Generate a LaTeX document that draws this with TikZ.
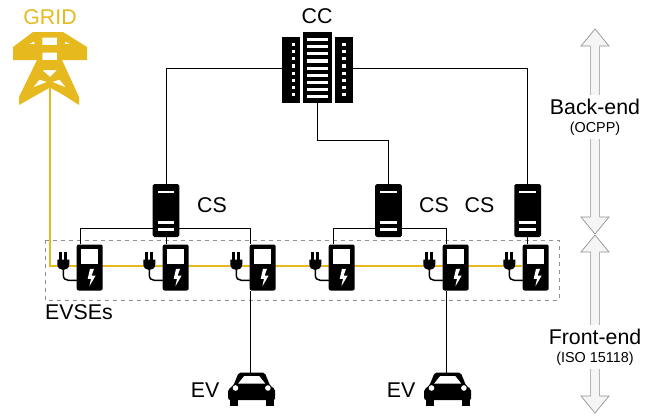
\documentclass[tikz,border=0pt]{standalone}
\usepackage{fontspec}
\setmainfont{Liberation Sans}
\usetikzlibrary{backgrounds,shapes.arrows}
\definecolor{gridyellow}{RGB}{230,185,30}
\definecolor{arrowgrey}{RGB}{144,144,144}
\definecolor{arrowfill}{RGB}{245,245,245}
\tikzset{
  label16/.style={font=\fontsize{16}{18}\selectfont, inner sep=0pt},
  label11/.style={font=\fontsize{10.8}{12}\selectfont, inner sep=0pt},
  wire/.style={line width=0.6pt, black},
  power/.style={line width=2pt, gridyellow},
  layer/.style={draw=arrowgrey, fill=arrowfill, line width=0.5pt, double arrow, rotate=90,
    inner sep=3.2pt, minimum width=21pt, double arrow head extend=7.1pt, double arrow tip angle=79},
  layerlabel/.style={fill=white, inner xsep=1pt, inner ysep=3pt},
  csnode/.style={fill=black, rounded corners=1.2pt, minimum width=20pt, minimum height=39.75pt, inner sep=0pt,
    path picture={
      \fill[white, sharp corners] (-8.3,-20) rectangle (8.3,-17.6);
      \fill[white, sharp corners] (-8.3,10.7) rectangle (8.3,13.1);
      \fill[white, sharp corners] (-8.3,17.7) rectangle (8.3,20.1);
    }},
  evsenode/.style={fill=black, rounded corners=1.5pt, minimum width=19.5pt, minimum height=34.5pt, inner sep=0pt,
    path picture={
      \fill[white, sharp corners] (-8.7,-18.7) rectangle (8.7,-3.7);
      \fill[white, sharp corners] (0.3,1.3) -- (4.3,1.3) -- (2,8) -- (6,8) -- (-0.3,18.7) -- (1.3,11.3) -- (-2,11.3) -- cycle;
    }},
  ccnode/.style={fill=black, inner sep=0pt, minimum width=#1},
  gridnode/.style={minimum width=55.5pt, minimum height=54.75pt, inner sep=0pt,
    path picture={
      \fill[gridyellow, even odd rule, sharp corners]
        (-17,-36.5) -- (13,-36.5) -- (37,-21.5) -- (37,-8.5) -- (12,-8.5) -- (29,28.5) -- (29,36.5) -- (15,27.5) -- (0,19)
        -- (-17,28.5) -- (-31,36.5) -- (-31,28.5) -- (-13,-8.5) -- (-37,-8.5) -- (-37,-21.5) -- cycle
        (-7.7,-31) -- (7,-31) -- (7,-23.5) -- (-7.7,-23.5) -- cycle
        (-7.7,-16) -- (7,-16) -- (7,-8.5) -- (-7.7,-8.5) -- cycle
        (-21.7,-24.3) -- (-15.7,-27) -- (-15.7,-24.3) -- cycle
        (15,-27) -- (20.7,-24.3) -- (15,-24.3) -- cycle
        (-7.7,1.5) -- (7,1.5) -- (0,8.5) -- cycle
        (-10.5,11) -- (-3,13.5) -- (-17,19) -- cycle
        (9.5,11) -- (16,19) -- (2.5,13.5) -- cycle;
    }},
  evnode/.style={minimum width=36pt, minimum height=24.75pt, inner sep=0pt,
    path picture={
      \fill[black, rounded corners=1.5pt]
        (-13,-16.5) -- (13,-16.5) -- (18.5,-3) -- (23.5,0) -- (23.5,11) -- (-23.5,11) -- (-23.5,0) -- (-18.5,-3) -- cycle;
      \fill[black, sharp corners] (-22,9) rectangle (-14,16.5);
      \fill[black, sharp corners] (14,9) rectangle (22,16.5);
      \fill[white, sharp corners] (-7.5,-13) -- (7.5,-13) -- (13.5,-5.5) -- (-13.5,-5.5) -- cycle;
      \fill[white] (-16.2,-1) circle (2.8);
      \fill[white] (16.2,-1) circle (2.8);
    }},
  plug/.pic={
    \fill[black] (-4.3,-14.3) rectangle (-1.7,-6);
    \fill[black] (0.7,-14.3) rectangle (3.3,-6);
    \fill[black] (-6,-6.5) -- (6,-6.5) -- (6,-2) .. controls (6,2) and (3,4) .. (0,4) .. controls (-3,4) and (-6,2) .. (-6,-2) -- cycle;
    \draw[black, line width=1.1pt] (0,3) -- (0,9) .. controls (0,12.5) and (2,14.3) .. (5,14.3) -- (14,14.3);
  }
}
\begin{document}
\begin{tikzpicture}[x=0.75pt,y=-0.75pt]
\useasboundingbox (0,0) rectangle (655,415);
\node[gridnode] (grid) at (50,68.5){};
\node[label16, gridyellow] (gridlabel) at (50,17){GRID};
\node[ccnode=13.5pt, minimum height=49.5pt] (cc1) at (291,70){};
\node[ccnode=21.75pt, minimum height=53.25pt] (cc2) at (317.5,67.5){};
\node[ccnode=13.5pt, minimum height=49.5pt] (cc3) at (344,70){};
\draw[white, line width=2.4pt, dash pattern=on 2.4pt off 2.95pt] (293.5,43) -- (293.5,97);
\draw[white, line width=15.75pt, dash pattern=on 2.4pt off 2.95pt] (317.5,38) -- (317.5,99);
\draw[white, line width=2.4pt, dash pattern=on 2.4pt off 2.95pt] (344,43) -- (344,97);
\node[label16] (cclabel) at (317,16){CC};
\node[csnode] (cs1) at (166,210.5){};
\node[csnode] (cs2) at (388.5,210.5){};
\node[csnode] (cs3) at (527.7,210.5){};
\node[label16] (cs1label) at (212,205){CS};
\node[label16] (cs2label) at (434,205){CS};
\node[label16] (cs3label) at (479.5,205){CS};
\node[evsenode] (evse1) at (89.7,267.5){};
\node[evsenode] (evse2) at (175.7,267.5){};
\node[evsenode] (evse3) at (262.7,267.5){};
\node[evsenode] (evse4) at (341.7,267.5){};
\node[evsenode] (evse5) at (455.7,267.5){};
\node[evsenode] (evse6) at (535.7,267.5){};
\pic at (63.3,266) {plug};
\pic at (149.3,266) {plug};
\pic at (236.3,266) {plug};
\pic at (315.3,266) {plug};
\pic at (429.3,266) {plug};
\pic at (509.3,266) {plug};
\node[label16] (evselabel) at (79,312){EVSEs};
\node[evnode] (ev1) at (251.7,389){};
\node[evnode] (ev2) at (447.7,389){};
\node[label16] (ev1label) at (205,390){EV};
\node[label16] (ev2label) at (401,390){EV};
\node[layer, minimum height=153.75pt] (backarrow) at (595,131.5){};
\node[layer, minimum height=133.5pt] (frontarrow) at (595,324){};
\node[label16, layerlabel] (backlabel) at (595,107){Back-end};
\node[label11, layerlabel] (backproto) at (595,128.5){(OCPP)};
\node[label16, layerlabel] (frontlabel) at (595,337){Front-end};
\node[label11, layerlabel] (frontproto) at (595,358.5){(ISO 15118)};
\coordinate (gridfoot) at (50,88);
\coordinate (gridbus) at (50,266);
\coordinate (ccbend) at (317.5,140);
\coordinate (bus1) at (166,228);
\coordinate (bus2) at (388.5,228);
\coordinate (evtap1) at (250.3,373);
\coordinate (evtap2) at (446.7,373);
\begin{scope}[on background layer]
\draw[arrowgrey, line width=0.5pt, dashed] (45,240) rectangle (559,300);
\draw[power] (gridfoot) -- (gridbus) -- (evse6.west |- gridbus);
\draw[wire] (cc1.west |- 0,68) -| (cs1.north);
\draw[wire] (cc3.east |- 0,68) -| (cs3.north);
\draw[wire] (cc2.south) -- (ccbend) -| (cs2.north);
\draw[wire] ([xshift=-7.3pt]evse1.north) |- (bus1);
\draw[wire] (bus1) -| ([xshift=-9.3pt]evse3.north);
\draw[wire] (cs1.south) -- (cs1.south |- evse2.north);
\draw[wire] (cs3.south) -- (cs3.south |- evse6.north);
\draw[wire] ([xshift=-6.5pt]evse4.north) |- (bus2);
\draw[wire] (bus2) -| ([xshift=-6.8pt]evse5.north);
\draw[wire] (evtap1 |- evse3.south) -- (evtap1);
\draw[wire] (evtap2 |- evse5.south) -- (evtap2);
\end{scope}
\end{tikzpicture}
\end{document}
